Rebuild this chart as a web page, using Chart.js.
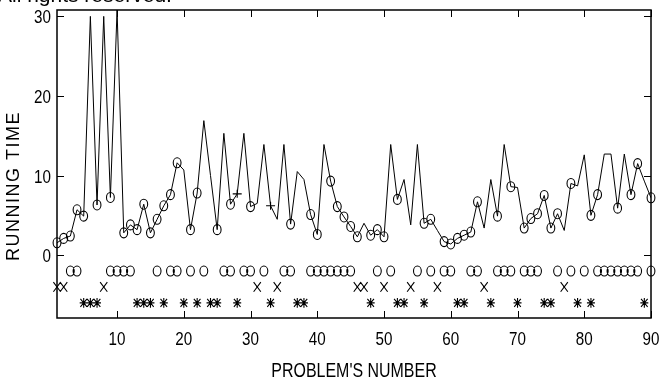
<!DOCTYPE html>
<html>
<head>
<meta charset="utf-8">
<script src="https://cdn.jsdelivr.net/npm/chart.js@4.4.1/dist/chart.umd.min.js"></script>
<style>
  html, body { margin: 0; padding: 0; background: #fff; }
  #wrap { width: 670px; height: 386px; }
</style>
</head>
<body>
<div id="wrap"><canvas id="myChart" width="670" height="386"></canvas></div>
<script>
// running time of each problem, problems 1..90
var runningTime = [
  1.55, 2.1, 2.4, 5.7, 4.9, 30.0, 6.3, 30.0, 7.25, 30.8,
  2.8, 3.8, 3.2, 6.4, 2.8, 4.5, 6.2, 7.6, 11.6, 10.7,
  3.2, 7.8, 16.9, 10.0, 3.2, 15.3, 6.4, 7.7, 15.3, 6.1,
  6.5, 13.9, 6.2, 4.5, 13.9, 3.9, 10.5, 9.5, 5.1, 2.6,
  13.9, 9.3, 6.1, 4.8, 3.6, 2.3, 4.0, 2.5, 3.2, 2.3,
  13.9, 7.0, 9.5, 3.8, 13.9, 4.0, 4.5, 3.1, 1.7, 1.4,
  2.1, 2.5, 2.9, 6.7, 3.4, 9.5, 4.9, 13.9, 8.6, 8.5,
  3.4, 4.6, 5.2, 7.5, 3.4, 5.2, 3.1, 9.0, 8.7, 12.6,
  5.0, 7.6, 12.7, 12.7, 5.9, 12.7, 7.6, 11.5, 9.3, 7.2
];
// problems marked on the curve
var circledOnCurve = [1,2,3,4,5,7,9,11,12,13,14,15,16,17,18,19,21,22,25,27,30,36,39,40,42,43,44,45,46,48,49,50,52,56,57,59,60,61,62,63,64,67,69,71,72,73,74,75,76,78,81,82,85,87,88,90];
var plusOnCurve = [28, 33];
// rows of symbols under the curve
var circleRow = [3,4,9,10,11,12,16,18,19,21,23,26,27,29,30,32,35,36,39,40,41,42,43,44,45,49,51,55,57,59,60,63,64,67,68,69,71,72,73,76,78,80,82,83,84,85,86,87,88,90];
var crossRow = [1,2,8,31,34,46,47,50,54,58,65,77];
var starRow = [5,6,7,13,14,15,17,20,22,24,25,28,33,37,38,48,52,53,56,61,62,66,70,74,75,79,81,89];
var circleRowLevel = -2;
var crossRowLevel = -4;
var starRowLevel = -6;
var xTicks = [10, 20, 30, 40, 50, 60, 70, 80, 90];
var yTicks = [0, 10, 20, 30];

var sans = "'Liberation Sans', Arial, sans-serif";

function onCurve(list) {
   return list.map(function (n) { return { x: n, y: runningTime[n - 1] }; });
}
function row(list, level) {
   return list.map(function (n) { return { x: n, y: level }; });
}

// marker shapes, a bit taller than wide like the original plot
var shapes = {
   ellipse: function (g, x, y) {
      g.moveTo(x + 3.9, y);
      g.ellipse(x, y, 3.9, 5, 0, 0, Math.PI * 2);
   },
   x: function (g, x, y) {
      g.moveTo(x - 3.6, y - 4.8); g.lineTo(x + 3.6, y + 4.8);
      g.moveTo(x + 3.6, y - 4.8); g.lineTo(x - 3.6, y + 4.8);
   },
   star: function (g, x, y) {
      g.moveTo(x, y - 4.8); g.lineTo(x, y + 4.8);
      g.moveTo(x - 4, y); g.lineTo(x + 4, y);
      g.moveTo(x - 3.3, y - 3.9); g.lineTo(x + 3.3, y + 3.9);
      g.moveTo(x + 3.3, y - 3.9); g.lineTo(x - 3.3, y + 3.9);
   },
   plus: function (g, x, y) {
      g.moveTo(x, y - 4); g.lineTo(x, y + 4);
      g.moveTo(x - 4.5, y); g.lineTo(x + 4.5, y);
   }
};

var markerPlugin = {
   id: 'markers',
   afterDatasetsDraw: function (chart) {
      var ctx = chart.ctx;
      ctx.save();
      ctx.strokeStyle = '#000';
      ctx.lineWidth = 1.1;
      chart.data.datasets.forEach(function (ds, i) {
         if (!ds.mark) return;
         ctx.beginPath();
         chart.getDatasetMeta(i).data.forEach(function (pt) {
            shapes[ds.mark](ctx, pt.x, pt.y);
         });
         ctx.stroke();
      });
      ctx.restore();
   }
};

function condensedText(ctx, text, x, y, size, squeeze, align) {
   ctx.save();
   ctx.translate(x, y);
   ctx.scale(squeeze, 1);
   ctx.font = size + 'px ' + sans;
   ctx.textAlign = align;
   ctx.textBaseline = 'alphabetic';
   ctx.fillText(text, 0, 0);
   ctx.restore();
}

var framePlugin = {
   id: 'frame',
   afterDraw: function (chart) {
      var ctx = chart.ctx;
      var a = chart.chartArea;
      var xs = chart.scales.x, ys = chart.scales.y;
      ctx.save();
      ctx.strokeStyle = '#000';
      ctx.lineWidth = 1.5;
      ctx.strokeRect(a.left, a.top, a.right - a.left, a.bottom - a.top);
      ctx.lineWidth = 1;
      ctx.beginPath();
      xTicks.forEach(function (v) {
         var px = Math.round(xs.getPixelForValue(v)) + 0.5;
         ctx.moveTo(px, a.bottom); ctx.lineTo(px, a.bottom - 7);
         ctx.moveTo(px, a.top); ctx.lineTo(px, a.top + 7);
      });
      yTicks.forEach(function (v) {
         var py = Math.round(ys.getPixelForValue(v)) + 0.5;
         ctx.moveTo(a.left, py); ctx.lineTo(a.left + 7, py);
         ctx.moveTo(a.right, py); ctx.lineTo(a.right - 7, py);
      });
      ctx.stroke();

      ctx.fillStyle = '#000';
      // tick labels, narrow faced like the original
      xTicks.forEach(function (v) {
         condensedText(ctx, String(v), xs.getPixelForValue(v), 345, 19, 0.8, 'center');
      });
      yTicks.forEach(function (v) {
         condensedText(ctx, String(v), a.left - 6, ys.getPixelForValue(v) + 7, 19, 0.8, 'right');
      });
      // x title
      condensedText(ctx, "PROBLEM'S NUMBER", (a.left + a.right) / 2, 377, 21, 0.76, 'center');
      // y title
      ctx.save();
      ctx.translate(19, 186);
      ctx.rotate(-Math.PI / 2);
      ctx.font = '18px ' + sans;
      ctx.letterSpacing = '1.5px';
      ctx.textAlign = 'center';
      ctx.fillText('RUNNING TIME', 0, 0);
      ctx.restore();
      // cut off notice at the very top
      ctx.textAlign = 'left';
      ctx.font = '21px ' + sans;
      ctx.fillText('All rights reserved.', -2, 2);
      ctx.restore();
   }
};

var hidden = { showLine: false, pointRadius: 0, pointHoverRadius: 0, clip: false };

var chart = new Chart(document.getElementById('myChart'), {
   type: 'line',
   data: {
      datasets: [
         {
            data: runningTime.map(function (v, i) { return { x: i + 1, y: v }; }),
            borderColor: '#000',
            borderWidth: 1,
            pointRadius: 0,
            tension: 0
         },
         Object.assign({ data: onCurve(circledOnCurve), mark: 'ellipse' }, hidden),
         Object.assign({ data: onCurve(plusOnCurve), mark: 'plus' }, hidden),
         Object.assign({ data: row(circleRow, circleRowLevel), mark: 'ellipse' }, hidden),
         Object.assign({ data: row(crossRow, crossRowLevel), mark: 'x' }, hidden),
         Object.assign({ data: row(starRow, starRowLevel), mark: 'star' }, hidden)
      ]
   },
   options: {
      responsive: false,
      animation: false,
      layout: { padding: { top: 10, right: 19, left: 0, bottom: 0 } },
      plugins: { legend: { display: false }, tooltip: { enabled: false } },
      scales: {
         x: {
            type: 'linear',
            min: 1,
            max: 90,
            grid: { display: false, drawTicks: false },
            border: { display: false },
            afterBuildTicks: function (scale) {
               scale.ticks = xTicks.map(function (v) { return { value: v }; });
            },
            afterFit: function (scale) { scale.height = 68; },
            ticks: { display: false }
         },
         y: {
            type: 'linear',
            min: -7.9,
            max: 30.8,
            grid: { display: false, drawTicks: false },
            border: { display: false },
            afterBuildTicks: function (scale) {
               scale.ticks = yTicks.map(function (v) { return { value: v }; });
            },
            afterFit: function (scale) { scale.width = 57; },
            ticks: { display: false }
         }
      }
   },
   plugins: [markerPlugin, framePlugin]
});
</script>
</body>
</html>
